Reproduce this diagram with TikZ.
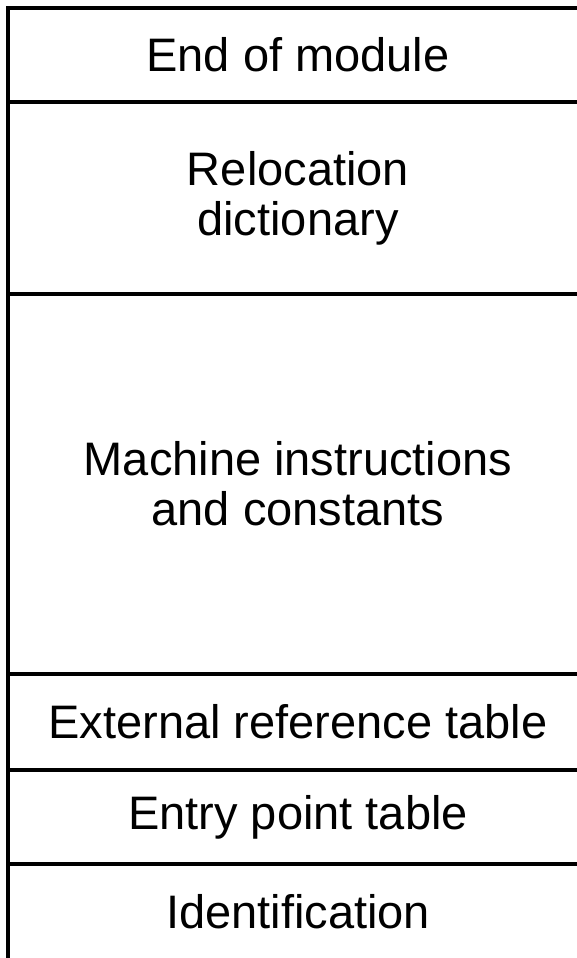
\documentclass[tikz,border=0pt]{standalone}
\usepackage{fontspec}
\setmainfont{Liberation Sans}
\begin{document}
\begin{tikzpicture}[x=1pt,y=1pt,
  cell/.style={draw=black, line width=4pt, minimum width=580pt, inner sep=0pt,
    align=center, font=\fontsize{47}{50}\selectfont}]
\useasboundingbox (0,0) rectangle (577,-958);
\clip (0,0) rectangle (577,-958);
\node[cell, minimum height=94pt]  (endm) at (298,-55)  {End of module};
\node[cell, minimum height=192pt] (reloc) at (298,-198) {Relocation\\dictionary};
\node[cell, minimum height=380pt] (mach) at (298,-484) {Machine instructions\\and constants};
\node[cell, minimum height=96pt]  (ext) at (298,-722)  {External reference table};
\node[cell, minimum height=94pt]  (entry) at (298,-817) {Entry point table};
\node[cell, minimum height=96pt]  (ident) at (298,-912) {Identification};
\end{tikzpicture}
\end{document}
